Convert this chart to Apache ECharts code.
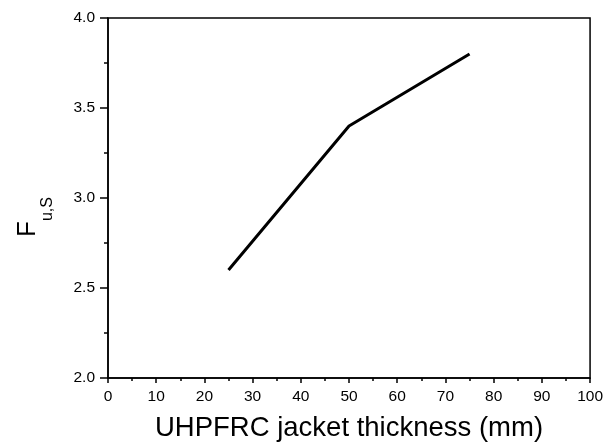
<!DOCTYPE html>
<html>
<head>
<meta charset="utf-8">
<script src="https://cdn.jsdelivr.net/npm/echarts@6/dist/echarts.min.js"></script>
<style>
  html, body { margin: 0; padding: 0; background: #fff; }
  #chart { width: 606px; height: 448px; }
</style>
</head>
<body>
<div id="chart"></div>
<script>
// jacket thickness (mm) vs F_u,S
const thickness = [25, 50, 75]
const fus = [2.6, 3.4, 3.8]

const font = '"Liberation Sans", Arial, sans-serif'

const myChart = echarts.init(document.getElementById('chart'))
const option = {
  animation: false,
  grid: {
    left: 108, right: 13, top: 18, bottom: 70,
    show: true, borderColor: '#000', borderWidth: 1.5, backgroundColor: 'transparent'
  },
  xAxis: {
    type: 'value',
    min: 0, max: 100, interval: 10,
    name: 'UHPFRC jacket thickness (mm)',
    nameLocation: 'middle',
    nameGap: 36,
    nameTextStyle: { fontFamily: font, fontSize: 27.5, color: '#000' },
    axisLine: { lineStyle: { color: '#000', width: 1.5 } },
    axisTick: { length: 5, lineStyle: { color: '#000', width: 1.5 } },
    minorTick: { show: true, splitNumber: 2, length: 3, lineStyle: { color: '#000', width: 1.5 } },
    axisLabel: { fontFamily: font, fontSize: 15.5, color: '#000', margin: 11 },
    splitLine: { show: false }
  },
  yAxis: {
    type: 'value',
    min: 2, max: 4, interval: 0.5,
    name: '{f|F}{sub|u,S}',
    nameLocation: 'middle',
    nameGap: 52,
    nameTextStyle: {
      fontFamily: font, color: '#000', padding: [0, 38, 0, 0],
      rich: {
        f: { fontFamily: font, fontSize: 26, color: '#000' },
        sub: { fontFamily: font, fontSize: 16, color: '#000', padding: [41, 0, 0, 0] }
      }
    },
    axisLine: { lineStyle: { color: '#000', width: 1.5 } },
    axisTick: { length: 8, lineStyle: { color: '#000', width: 1.5 } },
    minorTick: { show: true, splitNumber: 2, length: 4, lineStyle: { color: '#000', width: 1.5 } },
    axisLabel: {
      fontFamily: font, fontSize: 15.5, color: '#000', margin: 13,
      formatter: v => v.toFixed(1)
    },
    splitLine: { show: false }
  },
  series: [
    {
      type: 'line',
      data: thickness.map((t, i) => [t, fus[i]]),
      showSymbol: false,
      lineStyle: { color: '#000', width: 3 }
    }
  ]
}
myChart.setOption(option)
</script>
</body>
</html>
